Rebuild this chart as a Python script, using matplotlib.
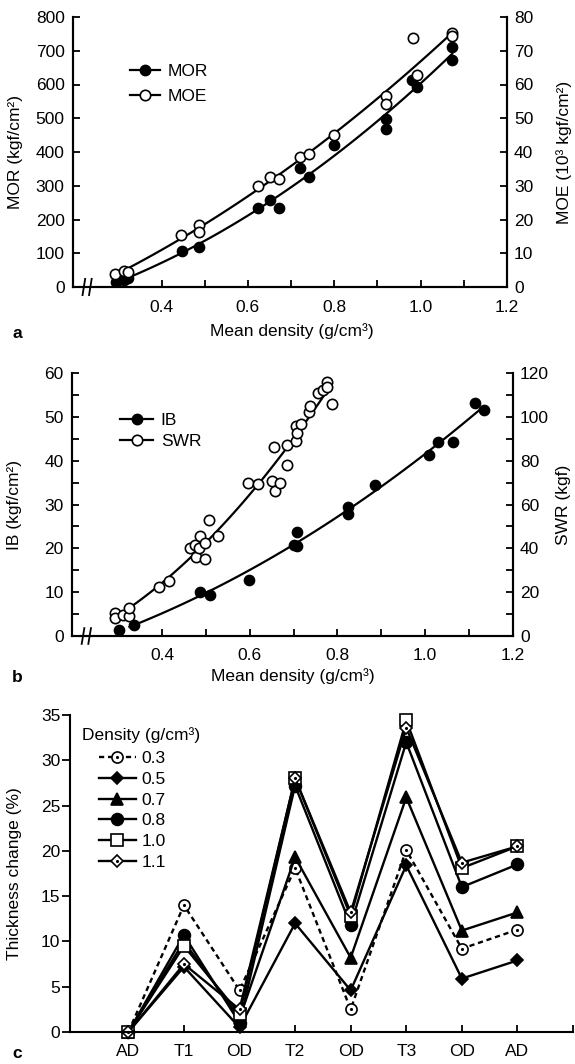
import numpy as np
import matplotlib.pyplot as plt
from matplotlib.legend_handler import HandlerTuple

plt.rcParams['font.family'] = ['Liberation Sans', 'DejaVu Sans']
plt.rcParams['font.size'] = 12.5

# panel a: MOR (kgf/cm2) and MOE (10^3 kgf/cm2) against mean density
mor_x = [0.295, 0.312, 0.323, 0.447, 0.486, 0.623, 0.652, 0.672, 0.72, 0.742,
         0.80, 0.92, 0.92, 0.981, 0.992, 1.073, 1.073]
mor_y = [15, 21, 26, 108, 119, 233, 258, 233, 352, 327,
         421, 497, 467, 613, 592, 712, 672]
moe_x = [0.292, 0.312, 0.323, 0.446, 0.486, 0.486, 0.623, 0.652, 0.672, 0.72,
         0.742, 0.80, 0.92, 0.92, 0.982, 0.992, 1.073, 1.073]
moe_y = [3.9, 4.8, 4.5, 15.4, 18.4, 16.2, 30.0, 32.5, 32.0, 38.6,
         39.3, 44.9, 56.6, 54.2, 73.7, 62.9, 75.3, 74.3]

# panel b: IB (kgf/cm2) and SWR (kgf) against mean density
ib_x = [0.301, 0.337, 0.486, 0.509, 0.598, 0.70, 0.708, 0.708, 0.823, 0.825,
        0.885, 1.009, 1.029, 1.064, 1.113, 1.133]
ib_y = [1.4, 2.5, 10.1, 9.4, 12.8, 20.8, 20.6, 23.8, 29.5, 27.9,
        34.5, 41.4, 44.3, 44.2, 53.2, 51.5]
swr_x = [0.293, 0.293, 0.312, 0.325, 0.326, 0.393, 0.417, 0.465, 0.475, 0.478,
         0.486, 0.484, 0.497, 0.498, 0.507, 0.527, 0.597, 0.618, 0.651, 0.655,
         0.658, 0.668, 0.686, 0.686, 0.705, 0.705, 0.707, 0.716, 0.735, 0.737,
         0.756, 0.768, 0.775, 0.775, 0.787]
swr_y = [10.4, 8.1, 9.6, 9.1, 12.6, 22.5, 25.3, 40.0, 41.6, 36.2,
         45.8, 40.0, 42.6, 35.0, 53.0, 45.7, 69.8, 69.4, 70.5, 86.2,
         66.0, 70.0, 87.3, 78.0, 89.0, 95.6, 92.6, 96.8, 102.0, 105.0,
         111.0, 112.4, 115.8, 113.6, 106.0]

# panel c: thickness change (%) through the soaking/drying cycle
stages = ['AD', 'T1', 'OD', 'T2', 'OD', 'T3', 'OD', 'AD']
densities = ['0.3', '0.5', '0.7', '0.8', '1.0', '1.1']
thick_03 = [0, 14.0, 4.6, 18.1, 2.5, 20.1, 9.2, 11.3]
thick_05 = [0, 7.2, 0.5, 12.0, 4.6, 18.4, 5.9, 7.9]
thick_07 = [0, 10.0, 1.5, 19.3, 8.2, 25.9, 11.2, 13.2]
thick_08 = [0, 10.7, 1.0, 27.2, 11.8, 32.0, 16.0, 18.5]
thick_10 = [0, 9.5, 2.0, 28.0, 12.8, 34.4, 18.1, 20.5]
thick_11 = [0, 7.5, 2.5, 28.0, 13.2, 33.6, 18.7, 20.5]

W, H = 575, 1064
fig = plt.figure(figsize=(W / 100, H / 100), dpi=100)


def add_axes_px(left, top, right, bottom):
    return fig.add_axes([left / W, 1 - bottom / H, (right - left) / W, (bottom - top) / H])


def fit_curve(x, y):
    coef = np.polyfit(x, y, 2)
    xs = np.linspace(min(x) + 0.025, max(x), 100)
    return xs, np.polyval(coef, xs)


def density_axes(ax, ax2):
    for a in (ax, ax2):
        a.spines['top'].set_visible(False)
        for s in a.spines.values():
            s.set_linewidth(1.5)
    ax.set_xlim(0.195, 1.2)
    ax.set_xticks([0.4, 0.6, 0.8, 1.0, 1.2])
    ax.set_xticks([0.3, 0.5, 0.7, 0.9, 1.1], minor=True)
    ax.tick_params(axis='x', which='both', direction='in', length=5, width=1.3, pad=9)
    ax.tick_params(axis='y', which='both', direction='in', length=5, width=1.3, pad=6)
    ax2.tick_params(axis='y', which='both', direction='in', length=5, width=1.3, pad=5)
    ax.set_xlabel('Mean density (g/cm³)')
    # axis break marks near the origin
    for bx in (0.025, 0.04):
        ax.plot([bx - 0.003, bx + 0.003], [-0.03, 0.03], transform=ax.transAxes,
                color='black', lw=1.3, clip_on=False)


filled = dict(marker='o', ms=7.5, mfc='black', mec='black', color='black', lw=1.6)
hollow = dict(marker='o', ms=7.5, mfc='white', mec='black', mew=1.2, color='black', lw=1.6)
legend_kw = dict(loc='upper left', frameon=False, borderpad=0, borderaxespad=0,
                 numpoints=1, fontsize=12.5)

# ---- panel a
ax = add_axes_px(73, 17, 507, 287)
ax2 = ax.twinx()
ax.scatter(mor_x, mor_y, s=55, color='black', zorder=3)
ax.plot(*fit_curve(mor_x, mor_y), color='black', lw=1.6)
ax2.scatter(moe_x, moe_y, s=55, facecolor='white', edgecolor='black', lw=1.2, zorder=3)
ax2.plot(*fit_curve(moe_x, moe_y), color='black', lw=1.6)
ax.set_ylim(0, 800)
ax.set_yticks(range(0, 801, 100))
ax2.set_ylim(0, 80)
ax2.set_yticks(range(0, 81, 10))
density_axes(ax, ax2)
ax.set_ylabel('MOR (kgf/cm²)')
ax2.set_ylabel('MOE (10³ kgf/cm²)')
ax.yaxis.set_label_coords(-0.116, 0.5)
ax2.yaxis.set_label_coords(1.112, 0.5)
ax.xaxis.set_label_coords(0.505, -0.135)
h1, = ax.plot([], [], **filled)
h2, = ax2.plot([], [], **hollow)
ax2.legend([h1, h2], ['MOR', 'MOE'], bbox_to_anchor=(0.131, 0.826),
           handlelength=1.75, handletextpad=0.4, labelspacing=0.55, **legend_kw)

# ---- panel b
ax = add_axes_px(72, 373, 513, 636)
ax2 = ax.twinx()
ax.scatter(ib_x, ib_y, s=55, color='black', zorder=3)
ax.plot(*fit_curve(ib_x, ib_y), color='black', lw=1.6)
ax2.scatter(swr_x, swr_y, s=55, facecolor='white', edgecolor='black', lw=1.2, zorder=3)
ax2.plot(*fit_curve(swr_x, swr_y), color='black', lw=1.6)
ax.set_ylim(0, 60)
ax.set_yticks(range(0, 61, 10))
ax.set_yticks(range(5, 60, 10), minor=True)
ax2.set_ylim(0, 120)
ax2.set_yticks(range(0, 121, 20))
ax2.set_yticks(range(10, 120, 20), minor=True)
density_axes(ax, ax2)
ax.set_ylabel('IB (kgf/cm²)')
ax2.set_ylabel('SWR (kgf)')
ax.yaxis.set_label_coords(-0.113, 0.5)
ax2.yaxis.set_label_coords(1.097, 0.5)
ax.xaxis.set_label_coords(0.5, -0.123)
h1, = ax.plot([], [], **filled)
h2, = ax2.plot([], [], **hollow)
ax2.legend([h1, h2], ['IB', 'SWR'], bbox_to_anchor=(0.109, 0.848),
           handlelength=1.9, handletextpad=0.45, labelspacing=0.32, **legend_kw)

# ---- panel c
ax = add_axes_px(70, 715, 573, 1032)
xi = np.arange(len(stages))
series = [thick_03, thick_05, thick_07, thick_08, thick_10, thick_11]
styles = [
    dict(marker='o', ls=(0, (2.2, 1.6)), mfc='white'),
    dict(marker='D', ls='-', mfc='black', ms=6.5),
    dict(marker='^', ls='-', mfc='black'),
    dict(marker='o', ls='-', mfc='black', ms=8.5),
    dict(marker='s', ls='-', mfc='white', ms=8.5),
    dict(marker='D', ls='-', mfc='white', ms=6.5),
]
handles = []
for vals, st in zip(series, styles):
    kw = dict(color='black', mec='black', mew=1.2, lw=1.7, ms=8, clip_on=False)
    kw.update(st)
    line, = ax.plot(xi, vals, **kw)
    if st['mfc'] == 'white' and st['marker'] in ('o', 'D'):
        dots, = ax.plot(xi, vals, ls='none', marker='.', ms=2.5, color='black', clip_on=False)
        handles.append((line, dots))
    else:
        handles.append(line)
ax.set_xlim(-1.05, 8.0)
ax.set_ylim(0, 35)
ax.set_xticks(xi)
ax.set_xticklabels(stages)
ax.set_xticks([8], minor=True)
ax.set_yticks(range(0, 36, 5))
for side in ('top', 'right'):
    ax.spines[side].set_visible(False)
for s in ax.spines.values():
    s.set_linewidth(1.5)
ax.tick_params(axis='x', which='both', direction='in', length=5, width=1.3, pad=9)
ax.tick_params(axis='y', direction='out', length=6, width=1.3, pad=1)
ax.set_ylabel('Thickness change (%)')
ax.yaxis.set_label_coords(-0.095, 0.5)
ax.text(0.024, 0.937, 'Density (g/cm³)', transform=ax.transAxes, va='center')
ax.legend(handles, densities, bbox_to_anchor=(0.058, 0.886),
          handlelength=2.1, handletextpad=0.35, labelspacing=0.32,
          handler_map={tuple: HandlerTuple(ndivide=1, pad=0)}, **legend_kw)

for letter, y in (('a', 333), ('b', 678), ('c', 1054)):
    fig.text(12 / W, 1 - y / H, letter, fontweight='bold', va='center')

fig.savefig('out.png', dpi=100)
